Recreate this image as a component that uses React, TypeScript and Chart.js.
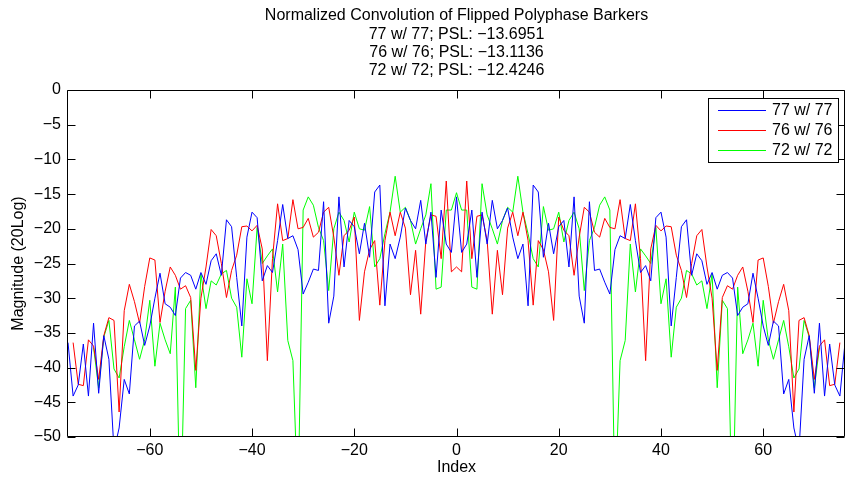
import React, { useEffect, useRef } from 'react';
import { Chart, registerables } from 'chart.js';

Chart.register(...registerables);

const titleLines = [
  'Normalized Convolution of Flipped Polyphase Barkers',
  '77 w/ 77; PSL: \u221213.6951',
  '76 w/ 76; PSL: \u221213.1136',
  '72 w/ 72; PSL: \u221212.4246',
];
const xLabel = 'Index';
const yLabel = 'Magnitude (20Log)';

const seriesLabels = ['77 w/ 77', '76 w/ 76', '72 w/ 72'];
const seriesColors = ['#0000ff', '#ff0000', '#00ff00'];

// first index of each series (values follow at consecutive indices)
const startIndex77 = -76;
const startIndex76 = -75;
const startIndex72 = -71;

const mag77 = [
  -36.4, -44.1, -42.5, -36.6, -44.1, -33.6, -43.7, -35.4, -38.8, -52,
  -48.7, -41.7, -43.8, -34, -33.3, -36.8, -34, -30, -26.4, -30.8,
  -31.3, -32.5, -27.1, -26.3, -26.7, -28.7, -26.3, -28, -24.6, -23.6,
  -26.7, -18.7, -19.7, -27, -34, -21.2, -17.6, -18.4, -27.5, -25.3,
  -26.3, -21.7, -16.5, -21.4, -21, -23, -29.4, -27.7, -25.8, -26,
  -16.1, -33.6, -29.7, -15.4, -25.5, -18.8, -19.7, -23.6, -19.2, -24.1,
  -14.7, -13.6951, -31.1, -22.2, -24.3, -21.2, -17, -18.8, -20, -15.9,
  -22.2, -17.6, -27, -17.3, -22.2, -23.4,
  -15.4,
  -23.4, -22.2, -17.3, -27, -17.6, -22.2,
  -15.9, -20, -18.8, -17, -21.2, -24.3, -22.2, -31.1, -13.6951, -14.7,
  -24.1, -19.2, -23.6, -19.7, -18.8, -25.5, -15.4, -29.7, -33.6, -16.1,
  -26, -25.8, -27.7, -29.4, -23, -21, -21.4, -16.5, -21.7, -26.3,
  -25.3, -27.5, -18.4, -17.6, -21.2, -34, -27, -19.7, -18.7, -26.7,
  -23.6, -24.6, -28, -26.3, -28.7, -26.7, -26.3, -27.1, -32.5, -31.3,
  -30.8, -26.4, -30, -34, -36.8, -33.3, -34, -43.8, -41.7, -48.7,
  -52, -38.8, -35.4, -43.7, -33.6, -44.1, -36.6, -42.5, -44.1, -36.4,
];

const mag76 = [
  -36.4, -42.4, -42.6, -36, -36.9, -41.7, -35.4, -32.8, -33.2, -46.4,
  -31.8, -28, -30.5, -33.6, -28.3, -24.2, -24.5, -33.5, -29, -25.5,
  -26.7, -28.7, -28.2, -29.9, -40.4, -30, -25.5, -20.1, -21, -25,
  -29.9, -26, -23.8, -19.7, -19.6, -20.3, -19.5, -22.9, -39, -24.3,
  -16.4, -21.7, -21.4, -15.8, -20, -19.8, -18.5, -21.2, -20.5, -17.6,
  -16.9, -21.2, -26.7, -21, -20.2, -18.3, -33.2, -26.2, -23, -21.7,
  -31, -21.7, -17.6, -21, -17.6, -19.9, -29.5, -23.1, -32.3, -21.7,
  -18, -18.2, -24.3, -13.1136, -26.2,
  -25.5,
  -26.2, -13.1136, -24.3, -18.2, -18,
  -21.7, -32.3, -23.1, -29.5, -19.9, -17.6, -21, -17.6, -21.7, -31,
  -21.7, -23, -26.2, -33.2, -18.3, -20.2, -21, -26.7, -21.2, -16.9,
  -17.6, -20.5, -21.2, -18.5, -19.8, -20, -15.8, -21.4, -21.7, -16.4,
  -24.3, -39, -22.9, -19.5, -20.3, -19.6, -19.7, -23.8, -26, -29.9,
  -25, -21, -20.1, -25.5, -30, -40.4, -29.9, -28.2, -28.7, -26.7,
  -25.5, -29, -33.5, -24.5, -24.2, -28.3, -33.6, -30.5, -28, -31.8,
  -46.4, -33.2, -32.8, -35.4, -41.7, -36.9, -36, -42.6, -42.4, -36.4,
];

const mag72 = [
  -37.1, -42.9, -35.6, -33.2, -40.2, -41.5, -37, -33.2, -36, -38.8,
  -36, -30.3, -39.8, -33.6, -36, -38, -28.4, -63, -31.5, -30.3,
  -42.9, -26.5, -31.5, -27.5, -28.1, -26.5, -26, -30, -31.3, -38.5,
  -27.2, -30.8, -19.8, -25, -23.9, -22.9, -29.1, -22.2, -36.1, -39,
  -60, -17.3, -15.4, -16.6, -19.8, -21.7, -28.9, -20, -17.6, -18.8,
  -21.9, -17.6, -20, -20.2, -16.8, -25.5, -24.3, -20.7, -17.6, -12.4246,
  -17.6, -16.9, -18.8, -22.2, -20, -18, -13.5, -28.7, -28.4, -17.3,
  -17.3,
  -14.8,
  -17.3, -17.3, -28.4, -28.7, -13.5, -18, -20, -22.2, -18.8, -16.9,
  -17.6, -12.4246, -17.6, -20.7, -24.3, -25.5, -16.8, -20.2, -20, -17.6,
  -21.9, -18.8, -17.6, -20, -28.9, -21.7, -19.8, -16.6, -15.4, -17.3,
  -60, -39, -36.1, -22.2, -29.1, -22.9, -23.9, -25, -19.8, -30.8,
  -27.2, -38.5, -31.3, -30, -26, -26.5, -28.1, -27.5, -31.5, -26.5,
  -42.9, -30.3, -31.5, -63, -28.4, -38, -36, -33.6, -39.8, -30.3,
  -36, -38.8, -36, -33.2, -37, -41.5, -40.2, -33.2, -35.6, -42.9, -37.1,
];

const xTickValues = [-60, -40, -20, 0, 20, 40, 60];
const yTickValues = [0, -5, -10, -15, -20, -25, -30, -35, -40, -45, -50];
const xMin = -76;
const xMax = 76;
const yMin = -50;
const yMax = 0;

const FONT_FAMILY = '"Liberation Sans", Arial, Helvetica, sans-serif';
const FONT_SIZE = 16;

function fmtNum(v: number): string {
  return v < 0 ? '\u2212' + String(Math.abs(v)) : String(v);
}

function toPoints(start: number, values: number[]) {
  return values.map((v, i) => ({ x: start + i, y: v }));
}

const framePlugin = {
  id: 'matlabFrame',
  beforeDraw(chart: any) {
    const { ctx, width, height } = chart;
    ctx.save();
    ctx.fillStyle = '#ffffff';
    ctx.fillRect(0, 0, width, height);
    ctx.restore();
  },
  afterDatasetsDraw(chart: any) {
    const { ctx, chartArea, scales } = chart;
    const L = Math.round(chartArea.left) - 0.5;
    const R = Math.round(chartArea.right) - 0.5;
    const T = Math.round(chartArea.top) + 0.5;
    const B = Math.round(chartArea.bottom) - 0.5;
    const tl = 8;
    ctx.save();
    ctx.strokeStyle = '#000000';
    ctx.lineWidth = 1;
    ctx.beginPath();
    ctx.rect(L, T, R - L, B - T);
    xTickValues.forEach((v) => {
      const px = Math.round(scales.x.getPixelForValue(v)) + 0.5;
      ctx.moveTo(px, B);
      ctx.lineTo(px, B - tl);
      ctx.moveTo(px, T);
      ctx.lineTo(px, T + tl);
    });
    yTickValues.forEach((v) => {
      const py = Math.round(scales.y.getPixelForValue(v)) + 0.5;
      ctx.moveTo(L, py);
      ctx.lineTo(L + tl, py);
      ctx.moveTo(R, py);
      ctx.lineTo(R - tl, py);
    });
    ctx.stroke();
    ctx.restore();
  },
  afterDraw(chart: any) {
    const { ctx, chartArea } = chart;
    ctx.save();
    // title
    ctx.fillStyle = '#000000';
    ctx.font = `${FONT_SIZE}px ${FONT_FAMILY}`;
    ctx.textAlign = 'center';
    ctx.textBaseline = 'middle';
    const cx = (chartArea.left + chartArea.right) / 2;
    titleLines.forEach((line, i) => {
      ctx.fillText(line, cx, 16 + i * 18.3);
    });
    // legend
    const bx = 708.5, by = 98.5, bw = 130, bh = 64;
    ctx.fillStyle = '#ffffff';
    ctx.fillRect(bx, by, bw, bh);
    ctx.strokeStyle = '#000000';
    ctx.lineWidth = 1;
    ctx.strokeRect(bx, by, bw, bh);
    ctx.textAlign = 'left';
    seriesLabels.forEach((lab, i) => {
      const ry = 110.5 + i * 20;
      ctx.strokeStyle = seriesColors[i];
      ctx.beginPath();
      ctx.moveTo(718, ry);
      ctx.lineTo(766, ry);
      ctx.stroke();
      ctx.fillStyle = '#000000';
      ctx.fillText(lab, 772, ry + 0.5);
    });
    ctx.restore();
  },
};

export default function App() {
  const canvasRef = useRef<HTMLCanvasElement | null>(null);

  useEffect(() => {
    const canvas = canvasRef.current;
    if (!canvas) return;
    const font = { family: FONT_FAMILY, size: FONT_SIZE, weight: 'normal' as const };
    const datasets = [
      { start: startIndex77, values: mag77 },
      { start: startIndex76, values: mag76 },
      { start: startIndex72, values: mag72 },
    ].map((s, i) => ({
      label: seriesLabels[i],
      data: toPoints(s.start, s.values),
      borderColor: seriesColors[i],
      backgroundColor: seriesColors[i],
      borderWidth: 1,
      pointRadius: 0,
      pointHoverRadius: 0,
      tension: 0,
      fill: false,
    }));

    const chart = new Chart(canvas, {
      type: 'line',
      data: { datasets },
      plugins: [framePlugin],
      options: {
        animation: false,
        responsive: false,
        devicePixelRatio: 1,
        events: [],
        layout: { padding: { top: 90, left: 0, right: -1, bottom: 0 } },
        plugins: {
          legend: { display: false },
          title: { display: false },
          tooltip: { enabled: false },
        },
        scales: {
          x: {
            type: 'linear',
            min: xMin,
            max: xMax,
            afterBuildTicks: (s: any) => {
              s.ticks = xTickValues.map((v) => ({ value: v }));
            },
            afterFit: (s: any) => {
              s.height = 46;
            },
            grid: { display: false, drawTicks: false },
            border: { display: false },
            ticks: {
              autoSkip: false,
              maxRotation: 0,
              padding: 4,
              color: '#000000',
              font,
              callback: (v: any) => fmtNum(Number(v)),
            },
            title: {
              display: true,
              text: xLabel,
              color: '#000000',
              font,
              padding: { top: 0, bottom: 6 },
            },
          },
          y: {
            type: 'linear',
            min: yMin,
            max: yMax,
            afterBuildTicks: (s: any) => {
              s.ticks = yTickValues.slice().reverse().map((v) => ({ value: v }));
            },
            afterFit: (s: any) => {
              s.width = 68;
            },
            grid: { display: false, drawTicks: false },
            border: { display: false },
            ticks: {
              autoSkip: false,
              padding: 7,
              color: '#000000',
              font,
              callback: (v: any) => fmtNum(Number(v)),
            },
            title: {
              display: true,
              text: yLabel,
              color: '#000000',
              font,
              padding: { top: 9, bottom: 0 },
            },
          },
        },
      },
    });
    return () => chart.destroy();
  }, []);

  return (
    <div style={{ position: 'fixed', left: 0, top: 0, width: 845, height: 483, background: '#fff' }}>
      <canvas ref={canvasRef} width={845} height={483} style={{ display: 'block' }} />
    </div>
  );
}
